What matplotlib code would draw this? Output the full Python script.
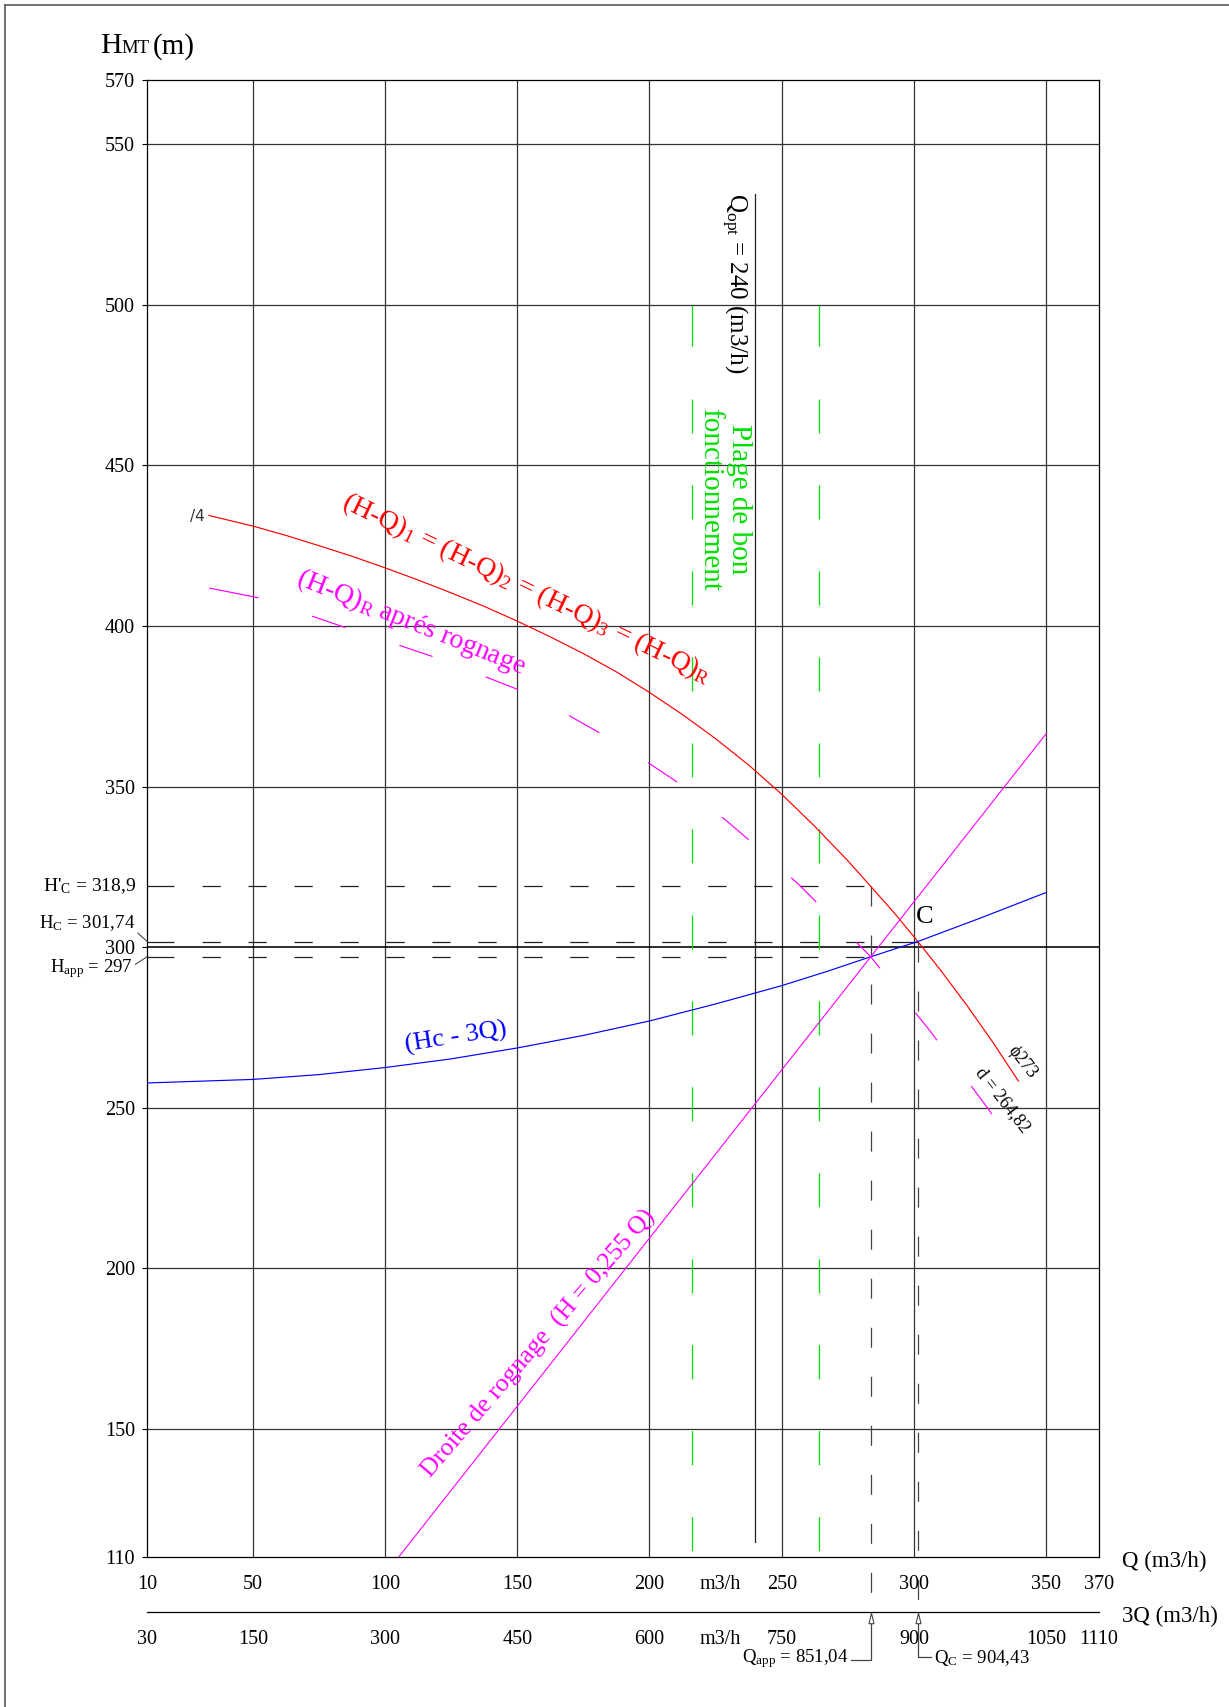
import matplotlib
matplotlib.use("Agg")
import matplotlib.pyplot as plt
from matplotlib import transforms
from matplotlib.path import Path

plt.rcParams["font.family"] = ["Liberation Serif", "DejaVu Serif"]
plt.rcParams["mathtext.fontset"] = "custom"
plt.rcParams["mathtext.rm"] = "Liberation Serif"
plt.rcParams["mathtext.it"] = "Liberation Serif:italic"
plt.rcParams["mathtext.bf"] = "Liberation Serif:bold"
plt.rcParams["lines.scale_dashes"] = False

# ---------------- data ----------------
# Pump characteristic (H-Q), impeller d = 273 mm
pump_q = [33.4, 50, 62.5, 75, 87.5, 100, 112.5, 125, 137.5, 150, 162.5, 175, 187.5, 200,
          212.5, 225, 237.5, 250, 262.5, 275, 283.68, 292.5, 301.48, 310, 320, 330, 339.5]
pump_h = [434.4, 431.1, 428.2, 425.0, 421.7, 418.1, 414.3, 410.3, 406.1, 401.5, 396.6, 391.4, 385.7, 379.3,
          372.4, 364.9, 356.7, 347.6, 337.6, 326.9, 318.9, 310.7, 301.74, 292.9, 281.9, 270.2, 258.3]

# Pump characteristic after trimming (d = 264,82 mm)
trim_q = [33.5, 52, 72.6, 84.6, 105.6, 117.9, 138.5, 150.9, 170.2, 181.8, 201, 212.8,
          229.6, 240.4, 257.1, 267.2, 283.68, 292, 306.2, 314.8, 328.5, 339.5]
trim_h = [411.8, 408.8, 403.0, 399.6, 393.9, 390.5, 384.0, 380.0, 371.8, 366.4, 356.6, 350.1,
          339.0, 331.4, 319.0, 310.6, 297.0, 288.3, 273.8, 264.3, 249.2, 235.0]

# System curve (Hc - 3Q)
sys_q = [10, 50, 75, 100, 125, 150, 175, 200, 225, 250, 267, 283.68, 301.48, 325, 350]
sys_h = [257.7, 258.8, 260.3, 262.5, 265.2, 268.6, 272.5, 277.0, 282.3, 288.0, 292.4, 297.0,
         301.74, 309.0, 317.0]

# Operating points
Q_OPT = 240
Q_APP = 851.04 / 3
Q_C = 904.43 / 3
H_APP = 297.0
H_C = 301.74
H_C_PRIME = 318.9

# Good operating range (0.9 - 1.1 Qopt)
plage_q = [216, 264]
plage_h = [500, 110]
qopt_h = [534.5, 114.7]

# Trimming line through the origin and the required point
rognage_q = [105.0, 350.0]
rognage_slope = H_APP / Q_APP

# Axis ticks
q_ticks = [10, 50, 100, 150, 200, 250, 300, 350, 370]
q_unit_pos = 226.7
q_marks = [10, 50, 100, 150, 200, 250, 300, 350]
q3_marks = [300, 450, 600, 750, 900, 1050]
h_ticks = [110, 150, 200, 250, 300, 350, 400, 450, 500, 550, 570]
grid_q = [50, 100, 150, 200, 250, 300, 350]
grid_h = [150, 200, 250, 350, 400, 450, 500, 550]

# ---------------- figure ----------------
W, H = 1229, 1707
fig = plt.figure(figsize=(W / 100, H / 100), dpi=100)
fig.patch.set_facecolor("white")
L, R, T, B = 147.1, 1099.0, 80.0, 1557.3
ax = fig.add_axes([L / W, 1 - B / H, (R - L) / W, (B - T) / H])
ax.set_xlim(10, 370)
ax.set_ylim(110, 570)

# pixel (from top-left of the sheet) transform and blends
px = transforms.Affine2D().scale(1 / W, -1 / H).translate(0, 1) + fig.transFigure
x_px_y_data = transforms.blended_transform_factory(px, ax.transData)
x_data_y_px = transforms.blended_transform_factory(ax.transData, px)


def h_at(ypx):
    disp = px.transform((0, ypx))
    return ax.transData.inverted().transform(disp)[1]


# sheet border
fig.add_artist(plt.Line2D([5.3 / W, 1], [1 - 5.0 / H] * 2, transform=fig.transFigure, color="#666666", lw=1.3))
fig.add_artist(plt.Line2D([5.3 / W] * 2, [0, 1 - 5.0 / H], transform=fig.transFigure, color="#666666", lw=1.3))

# grid
grid_kw = dict(color="#333333", lw=0.9, zorder=1)
ax.vlines(grid_q, 110, 570, **grid_kw)
ax.hlines(grid_h, 10, 370, **grid_kw)
ax.hlines([300], 10, 370, color="black", lw=1.15, zorder=1)

for s in ax.spines.values():
    s.set_color("black")
    s.set_linewidth(0.9)

# y axis
ax.set_yticks(h_ticks)
ax.set_yticklabels([str(v) for v in h_ticks])
ax.tick_params(axis="y", direction="out", length=3.6, width=0.8, pad=5, labelsize=14.5)

# Q axis
q_major = q_ticks[:5] + [q_unit_pos] + q_ticks[5:]
q_labels = [str(v) for v in q_ticks[:5]] + ["m3/h"] + [str(v) for v in q_ticks[5:]]
ax.set_xticks(q_major)
ax.set_xticklabels(q_labels)
ax.set_xticks(q_marks, minor=True)
ax.tick_params(axis="x", which="major", length=0, pad=12.5, labelsize=14.5)
ax.tick_params(axis="x", which="minor", direction="out", length=5.8, width=0.8)

# 3Q axis
sec = ax.secondary_xaxis(-(1612.3 - B) / (B - T), functions=(lambda q: 3 * q, lambda t: t / 3))
q3_major = [3 * v for v in q_ticks[:5]] + [3 * q_unit_pos] + [3 * v for v in q_ticks[5:]]
q3_labels = [str(3 * v) for v in q_ticks[:5]] + ["m3/h"] + [str(3 * v) for v in q_ticks[5:]]
sec.set_ticks(q3_major, labels=q3_labels)
sec.set_ticks(q3_marks, minor=True)
sec.tick_params(axis="x", which="major", length=0, pad=12.5, labelsize=14.5)
sec.tick_params(axis="x", which="minor", direction="out", length=5.8, width=0.8)
sec.spines["bottom"].set_linewidth(0.9)

# axis titles
fig.text(100 / W, 1 - 53.3 / H, "H", fontsize=21.5, va="baseline")
fig.text(121 / W, 1 - 53.3 / H, "MT", fontsize=13.5, va="baseline")
fig.text(153 / W, 1 - 53.3 / H, "(m)", fontsize=21, va="baseline")
ax.text(1121.5, 1561.7, "Q (m3/h)", transform=px, fontsize=16.5, ha="left", va="center")
ax.text(1121.5, 1616.7, "3Q (m3/h)", transform=px, fontsize=16.5, ha="left", va="center")

# good operating range and Qopt
green = "#00e000"
ax.plot([plage_q[0]] * 2, plage_h, color=green, lw=0.9, dashes=[29.5, 38.2] + [24.5, 37.4] * 14, zorder=2)
ax.plot([plage_q[1]] * 2, plage_h, color=green, lw=0.9, dashes=[29.5, 38.2] + [24.5, 37.4] * 14, zorder=2)
ax.plot([Q_OPT] * 2, qopt_h, color="#222222", lw=0.9, zorder=2)

# curves
ax.plot(pump_q, pump_h, color="#ff0000", lw=0.85, zorder=4)
ax.plot(trim_q, trim_h, color="#ff00ff", lw=0.85, dashes=[36, 41] + [25.2, 41] * 20, zorder=4)
ax.plot(sys_q, sys_h, color="#0000ff", lw=0.85, zorder=4)
ax.plot(rognage_q, [rognage_slope * q for q in rognage_q], color="#ff00ff", lw=0.8, zorder=4)

# operating point construction lines
hdash = [19.4, 20.2] + [13.2, 19.9] * 30
ax.plot([10, Q_APP], [H_C_PRIME] * 2, color="#222222", lw=0.9, dashes=hdash, zorder=3)
ax.plot([10, Q_C], [H_C] * 2, color="#222222", lw=0.9, dashes=hdash, zorder=3)
ax.plot([10, Q_APP], [H_APP] * 2, color="#222222", lw=0.9, dashes=hdash, zorder=3)
h_arrow_tip = h_at(1612.3)
vdash = [14.4, 20.9] * 40
ax.plot([Q_APP] * 2, [H_C_PRIME, h_arrow_tip], color="#444444", lw=0.9, dashes=vdash, clip_on=False, zorder=3)
ax.plot([Q_C] * 2, [H_C, h_arrow_tip], color="#444444", lw=0.9, dashes=vdash, clip_on=False, zorder=3)

# arrows on the 3Q axis and leaders to the labels
tri = Path([(0, 1), (-0.48, -1), (0.48, -1), (0, 1)], [Path.MOVETO, Path.LINETO, Path.LINETO, Path.CLOSEPOLY])
for q in (Q_APP, Q_C):
    ax.plot([q], [h_at(1617.5)], marker=tri, ms=7.5, mfc="white", mec="#444444", mew=0.8,
            clip_on=False, zorder=5)
ax.plot([Q_APP, Q_APP, Q_APP - 7.6], [1622.7, 1660, 1660], transform=x_data_y_px,
        color="#444444", lw=0.9, clip_on=False)
ax.plot([Q_C, Q_C, Q_C + 4.9], [1622.7, 1657, 1657], transform=x_data_y_px,
        color="#444444", lw=0.9, clip_on=False)
ax.text(Q_APP - 8.6, 1659, r"Q$_\mathregular{app}$ = 851,04", transform=x_data_y_px,
        fontsize=13.5, ha="right", va="center")
ax.text(Q_C + 6.3, 1658, r"Q$_\mathregular{C}$ = 904,43", transform=x_data_y_px,
        fontsize=13.5, ha="left", va="center")

# left-hand height labels
ax.text(136, H_C_PRIME, r"H'$_\mathregular{C}$ = 318,9", transform=x_px_y_data,
        fontsize=14, ha="right", va="center")
ax.annotate(r"H$_\mathregular{C}$ = 301,74", xy=(10, H_C), xycoords="data",
            xytext=(135, 923.5), textcoords=px, fontsize=13.5, ha="right", va="center",
            arrowprops=dict(arrowstyle="-", color="#333333", lw=0.7, relpos=(1.0, 0.15),
                            shrinkA=0, shrinkB=0))
ax.annotate(r"H$_\mathregular{app}$ = 297", xy=(10, H_APP), xycoords="data",
            xytext=(132.5, 968.5), textcoords=px, fontsize=13.5, ha="right", va="center",
            arrowprops=dict(arrowstyle="-", color="#333333", lw=0.7, relpos=(1.0, 0.6),
                            shrinkA=0, shrinkB=0))

# curve labels
ax.text(527, 589, r"(H-Q)$_\mathregular{1}$ = (H-Q)$_\mathregular{2}$ = (H-Q)$_\mathregular{3}$ = (H-Q)$_\mathregular{R}$",
        transform=px, color="#ff0000", fontsize=20, rotation=-25.7, rotation_mode="anchor",
        ha="center", va="center")
ax.text(411, 622, r"(H-Q)$_\mathregular{R}$ aprés rognage", transform=px, color="#ff00ff",
        fontsize=20, rotation=-21.8, rotation_mode="anchor", ha="center", va="center")
ax.text(734, 283, r"Q$_\mathregular{opt}$ = 240 (m3/h)", transform=px, color="black",
        fontsize=18, rotation=-90, ha="center", va="center")
ax.text(725, 499, "Plage de bon\nfonctionnement", transform=px, color=green, fontsize=21,
        rotation=-90, ha="center", va="center", multialignment="center", linespacing=1.15)
ax.text(456, 1037.5, "(Hc - 3Q)", transform=px, color="#0000ff", fontsize=19,
        rotation=9, rotation_mode="anchor", ha="center", va="center")
ax.text(539, 1344, "Droite de rognage  (H = 0,255 Q)", transform=px, color="#ff00ff",
        fontsize=18.5, rotation=49.3, rotation_mode="anchor", ha="center", va="center")
ax.text(1022, 1062, "\u03d5273", transform=px, color="black", fontsize=13,
        rotation=-52, rotation_mode="anchor", ha="center", va="center")
ax.text(1003, 1100, "d = 264,82", transform=px, color="black", fontsize=13,
        rotation=-52, rotation_mode="anchor", ha="center", va="center")
ax.text(916, 923, "C", transform=px, color="black", fontsize=19, ha="left", va="baseline")
ax.text(197.5, 516.5, "/4", transform=px, color="#333333", fontsize=11,
        family="DejaVu Sans", ha="center", va="center")

fig.savefig("out.png", dpi=100, facecolor="white")
